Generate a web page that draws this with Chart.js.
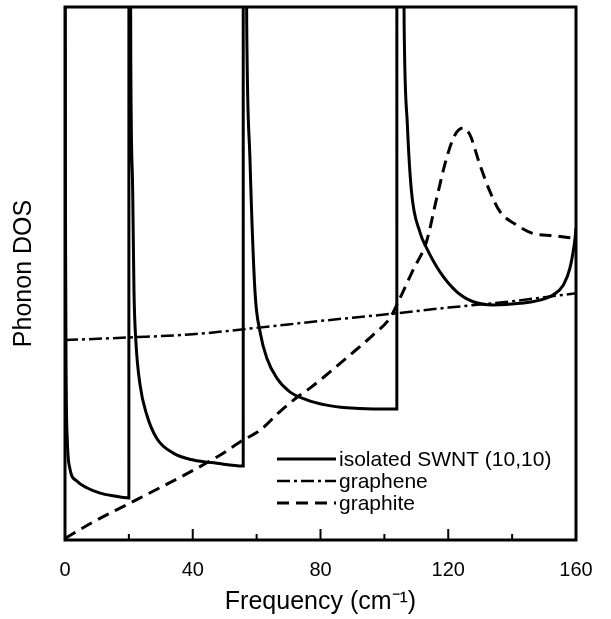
<!DOCTYPE html>
<html>
<head>
<meta charset="utf-8">
<script src="https://cdn.jsdelivr.net/npm/chart.js@4"></script>
<style>
  body { margin: 0; background: #fff; }
  canvas { display: block; }
</style>
</head>
<body>
<canvas id="dos" width="611" height="619"></canvas>
<script>
// frequency (cm^-1) vs phonon DOS (arb. units, 0..100 is the visible window)
// SWNT van Hove singularities go off the top, so those points sit at 150
const swntX = [0, 0.15, 0.4, 0.7, 1.5, 3.6, 6.8, 11, 15, 20, 20.01,
  20.3, 20.6, 21.2, 21.6, 22.2, 23.5, 25.6, 28.7, 33.9, 40.2, 47.5, 55.8, 55.81,
  56.4, 56.9, 57.9, 59.5, 61.1, 63.2, 66.3, 70.4, 75.7, 81.9, 88.2, 96.5, 103.9, 103.91,
  105.5, 106.2, 107.2, 108.5, 111.1, 113.2, 117.4, 122.6, 127.8, 134.1, 142.5, 148.7, 152.9, 156, 158.1, 159.7, 160];
const swntY = [150, 60, 28, 19, 13.5, 11.1, 9.8, 8.8, 8.3, 7.9, 150,
  150, 90, 65.3, 46.6, 37.2, 29.1, 23.5, 19.1, 16.3, 15.0, 14.4, 13.9, 150,
  150, 96.6, 71.7, 46.5, 39.0, 34.1, 30.4, 27.8, 26.3, 25.3, 24.8, 24.6, 24.6, 150,
  150, 96, 77.9, 65.3, 57.8, 54.8, 50.3, 46.6, 44.7, 44.1, 44.4, 45.0, 46.0, 47.8, 51.0, 56.6, 58.5];

const grapheneX = [0, 20, 40, 60, 80, 100, 120, 140, 160];
const grapheneY = [37.5, 38.0, 38.6, 39.8, 41.1, 42.3, 43.6, 44.8, 46.3];

const graphiteX = [0, 8.9, 19.3, 29.7, 40.2, 48.5, 54.8, 61.1, 67.3, 73.6, 76.7, 81.9, 89.2, 96.5,
  101.8, 104.9, 109.0, 113.2, 116.4, 119.5, 122.1, 124.7, 126.8, 129.9, 133.1, 136.2, 141.4, 146.6, 152.9, 159.7];
const graphiteY = [0.3, 3.4, 6.6, 9.8, 13.1, 15.9, 18.4, 20.6, 24.1, 27.2, 28.5, 31.0, 34.7, 38.5,
  41.7, 45.4, 50.7, 56.0, 64.2, 71.7, 76.0, 77.3, 76.0, 70.4, 65.3, 61.6, 59.1, 57.5, 57.1, 56.6];

const seriesNames = ['isolated SWNT (10,10)', 'graphene', 'graphite'];
const xTicks = [0, 40, 80, 120, 160];

const pts = (xs, ys) => xs.map((x, i) => ({ x, y: ys[i] }));
const FONT = '"Liberation Sans", Arial, Helvetica, sans-serif';

// box around the plot, inward ticks and the inset legend
const frame = {
  id: 'frame',
  afterDatasetsDraw(chart) {
    const { ctx, chartArea: a, scales } = chart;
    const xs = scales.x;
    ctx.save();
    ctx.strokeStyle = '#000';
    ctx.lineWidth = 3;
    ctx.strokeRect(a.left, a.top, a.right - a.left, a.bottom - a.top);
    ctx.lineWidth = 2;
    xs.ticks.forEach(t => {
      const px = xs.getPixelForValue(t.value);
      const len = xTicks.includes(t.value) ? 11 : 6;
      ctx.beginPath();
      ctx.moveTo(px, a.bottom);
      ctx.lineTo(px, a.bottom - len);
      ctx.stroke();
    });

    const lx = a.left + 212, ly = a.bottom - 81;
    chart.data.datasets.forEach((ds, i) => {
      const y = ly + i * 22;
      ctx.lineWidth = ds.borderWidth;
      ctx.setLineDash(ds.borderDash || []);
      ctx.beginPath();
      ctx.moveTo(lx, y);
      ctx.lineTo(lx + 59, y);
      ctx.stroke();
      ctx.setLineDash([]);
      ctx.fillStyle = '#000';
      ctx.font = '21px ' + FONT;
      ctx.textBaseline = 'middle';
      ctx.fillText(ds.label, lx + 62, y + 1);
    });
    ctx.restore();
  }
};

new Chart(document.getElementById('dos'), {
  type: 'line',
  data: {
    datasets: [
      { label: seriesNames[0], data: pts(swntX, swntY), borderColor: '#000', borderWidth: 3,
        cubicInterpolationMode: 'monotone' },
      { label: seriesNames[1], data: pts(grapheneX, grapheneY), borderColor: '#000', borderWidth: 2.5,
        borderDash: [13, 4, 3, 4], cubicInterpolationMode: 'monotone' },
      { label: seriesNames[2], data: pts(graphiteX, graphiteY), borderColor: '#000', borderWidth: 3,
        borderDash: [12, 7], cubicInterpolationMode: 'monotone' }
    ]
  },
  options: {
    responsive: false,
    animation: false,
    elements: { point: { radius: 0 } },
    layout: { padding: { top: 7, right: 35, left: 0, bottom: 0 } },
    plugins: { legend: { display: false }, tooltip: { enabled: false } },
    scales: {
      x: {
        type: 'linear', min: 0, max: 160,
        grid: { display: false },
        border: { display: false },
        ticks: {
          stepSize: 20, autoSkip: false, maxRotation: 0, padding: 10,
          color: '#000', font: { family: FONT, size: 20 },
          callback: v => (xTicks.includes(v) ? v : '')
        },
        title: {
          display: true, text: 'Frequency (cm⁻¹)', color: '#000',
          font: { family: FONT, size: 25, lineHeight: 1.2 }, padding: { top: 0, bottom: 2 }
        },
        afterFit: s => { s.height = 79; }
      },
      y: {
        min: 0, max: 100,
        grid: { display: false },
        border: { display: false },
        ticks: { display: false },
        title: {
          display: true, text: 'Phonon DOS', color: '#000',
          font: { family: FONT, size: 25, lineHeight: 1.2 }, padding: { top: 9, bottom: 0 }
        },
        afterFit: s => { s.width = 65; }
      }
    }
  },
  plugins: [frame]
});
</script>
</body>
</html>
